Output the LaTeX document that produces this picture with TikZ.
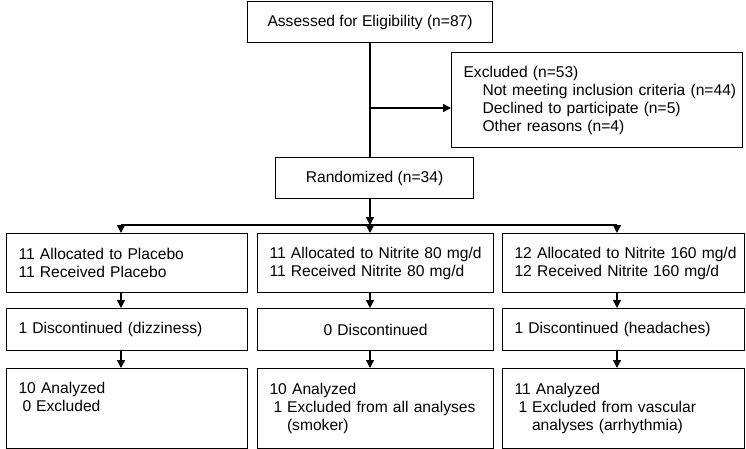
\documentclass[tikz,border=0pt]{standalone}
\usepackage{fontspec}
\setmainfont{Liberation Sans}
\usetikzlibrary{arrows.meta}
\newcommand{\ind}[1]{\makebox[0pt][l]{\hspace*{19pt}#1}}
\newcommand{\nw}[1]{\makebox[0pt][l]{#1}}
\begin{document}
\begin{tikzpicture}[x=1pt,y=-1pt,
  box/.style={draw, line width=1.1pt, inner ysep=0pt, anchor=north west,
    font=\fontsize{15.6}{18}\selectfont},
  ln/.style={line width=1.3pt},
  arr/.style={ln, -{Triangle[length=8pt,width=8pt]}}]
\useasboundingbox (0,0) rectangle (746,449);
% top
\node[box, minimum width=245pt, minimum height=41pt, inner xsep=0pt, align=center] (A) at (247,1) {Assessed for Eligibility (n=87)};
\node[box, minimum width=291pt, minimum height=95pt, inner xsep=12pt, text width=267pt, align=left] (ex) at (451,52)
 {Excluded (n=53)\\\ind{Not meeting inclusion criteria (n=44)}\\\ind{Declined to participate (n=5)}\\\ind{Other reasons (n=4)}};
\node[box, minimum width=198pt, minimum height=41pt, inner xsep=0pt, align=center] (R) at (275,157) {Randomized (n=34)};
% row 1
\node[box, minimum width=241pt, minimum height=59pt, inner xsep=12pt, text width=217pt, align=left] (a1) at (6,233) {\nw{11 Allocated to Placebo}\\\nw{11 Received Placebo}};
\node[box, minimum width=236pt, minimum height=59pt, inner xsep=12pt, text width=212pt, align=left] (b1) at (257,233) {\nw{11 Allocated to Nitrite 80 mg/d}\\\nw{11 Received Nitrite 80 mg/d}};
\node[box, minimum width=242pt, minimum height=59pt, inner xsep=12pt, text width=218pt, align=left] (c1) at (502,233) {\nw{12 Allocated to Nitrite 160 mg/d}\\\nw{12 Received Nitrite 160 mg/d}};
% row 2
\node[box, minimum width=241pt, minimum height=42pt, inner xsep=12pt, text width=217pt, align=left] (a2) at (6,308) {\nw{1 Discontinued (dizziness)}};
\node[box, minimum width=236pt, minimum height=42pt, inner xsep=12pt, text width=212pt, align=center] (b2) at (257,308) {0 Discontinued};
\node[box, minimum width=242pt, minimum height=42pt, inner xsep=12pt, text width=218pt, align=left] (c2) at (502,308) {\nw{1 Discontinued (headaches)}};
% row 3
\node[box, minimum width=241pt, minimum height=80pt, inner xsep=12pt, text width=217pt, align=left] (a3) at (6,368) {10 Analyzed\\\hspace*{4pt}0\hspace*{5pt}Excluded\\\strut};
\node[box, minimum width=236pt, minimum height=80pt, inner xsep=12pt, text width=212pt, align=left] (b3) at (257,368) {10 Analyzed\\\hspace*{4pt}1\hspace*{5pt}\nw{Excluded from all analyses}\\\hspace*{17.5pt}(smoker)};
\node[box, minimum width=242pt, minimum height=80pt, inner xsep=12pt, text width=218pt, align=left] (c3) at (502,368) {11 Analyzed\\\hspace*{4pt}1\hspace*{5pt}\nw{Excluded from vascular}\\\hspace*{17.5pt}\nw{analyses (arrhythmia)}};
% connectors
\coordinate (exc) at (370,108);
\coordinate (sp) at (370,225);
\coordinate (sl) at (121,225);
\coordinate (sr) at (617,225);
\draw[ln] (A.south -| sp) -- (R.north -| sp);
\draw[arr] (exc) -- (ex.west |- exc);
\draw[arr] (R.south -| sp) -- (sp);
\draw[ln] (sl) -- (sr);
\draw[arr] (sl) -- (a1.north -| sl);
\draw[arr] (sp) -- (b1.north -| sp);
\draw[arr] (sr) -- (c1.north -| sr);
\draw[arr] (a1.south -| sl) -- (a2.north -| sl);
\draw[arr] (b1.south -| sp) -- (b2.north -| sp);
\draw[arr] (c1.south -| sr) -- (c2.north -| sr);
\draw[arr] (a2.south -| sl) -- (a3.north -| sl);
\draw[arr] (b2.south -| sp) -- (b3.north -| sp);
\draw[arr] (c2.south -| sr) -- (c3.north -| sr);
\end{tikzpicture}
\end{document}
